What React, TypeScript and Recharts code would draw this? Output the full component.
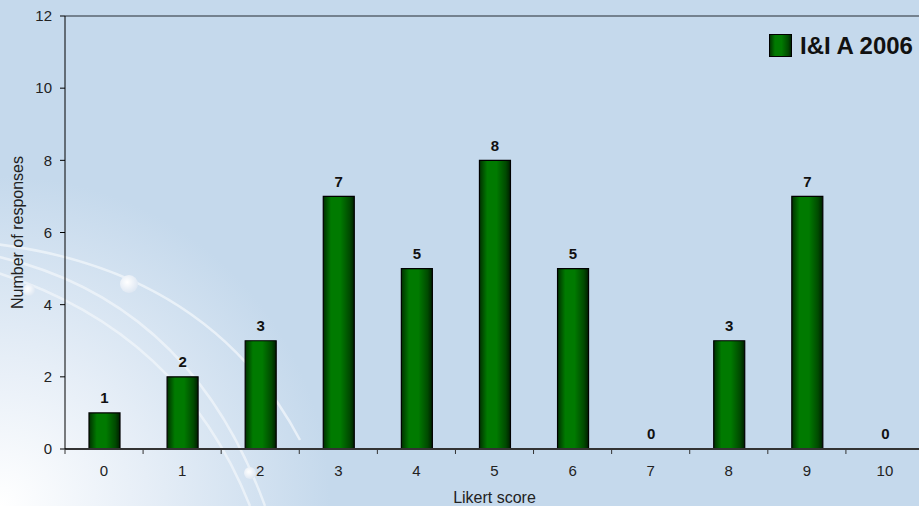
import React from "react";
import {
  Bar,
  BarChart,
  Cell,
  LabelList,
  Legend,
  ReferenceLine,
  XAxis,
  YAxis,
} from "recharts";

const scores = ["0", "1", "2", "3", "4", "5", "6", "7", "8", "9", "10"];
const responses = [1, 2, 3, 7, 5, 8, 5, 0, 3, 7, 0];
const yTicks = [0, 2, 4, 6, 8, 10, 12];
const seriesName = "I&I A 2006";

const data = scores.map((s, i) => ({ score: s, value: responses[i] }));

const CHART_W = 925;
const CHART_H = 506;
const Y_AXIS_W = 65;
const MARGIN_RIGHT = 1;
const BAND = (CHART_W - Y_AXIS_W - MARGIN_RIGHT) / scores.length;
const FONT = "'Liberation Sans', Arial, sans-serif";

function XTick(props: any) {
  const { x, y, payload, index } = props;
  const last = index === scores.length - 1;
  return (
    <g>
      <line x1={x - BAND / 2} x2={x - BAND / 2} y1={y} y2={y + 5} stroke="#333" />
      {last && <line x1={x + BAND / 2} x2={x + BAND / 2} y1={y} y2={y + 5} stroke="#333" />}
      <text
        x={x}
        y={y + 21}
        textAnchor="middle"
        dominantBaseline="central"
        fontSize={15}
        fill="#222"
        fontFamily={FONT}
      >
        {payload.value}
      </text>
    </g>
  );
}

function BarValue(props: any) {
  const { x, y, width, value } = props;
  return (
    <text
      x={x + width / 2}
      y={y - 15}
      textAnchor="middle"
      dominantBaseline="central"
      fontSize={15}
      fontWeight="bold"
      fill="#111"
      fontFamily={FONT}
    >
      {value}
    </text>
  );
}

function LegendBox() {
  return (
    <div style={{ display: "flex", alignItems: "center", fontFamily: FONT }}>
      <svg width={24} height={24} style={{ marginRight: 7 }}>
        <rect x={0.5} y={0.5} width={22} height={22} fill="url(#barFill)" stroke="#000" />
      </svg>
      <span style={{ fontWeight: "bold", fontSize: 24, color: "#111", lineHeight: "24px" }}>
        {seriesName}
      </span>
    </div>
  );
}

function Backdrop() {
  return (
    <svg width={919} height={506} style={{ position: "absolute", left: 0, top: 0 }}>
      <defs>
        <radialGradient id="glow" cx="0" cy="506" r="330" gradientUnits="userSpaceOnUse">
          <stop offset="0" stopColor="#ffffff" />
          <stop offset="0.45" stopColor="#e6eef7" />
          <stop offset="1" stopColor="#c5d9ec" />
        </radialGradient>
        <radialGradient id="dot" cx="0.4" cy="0.4" r="0.6">
          <stop offset="0" stopColor="#ffffff" />
          <stop offset="1" stopColor="#dfe8f3" />
        </radialGradient>
      </defs>
      <rect width={919} height={506} fill="#c5d9ec" />
      <rect width={919} height={506} fill="url(#glow)" />
      <g fill="none" stroke="#eef4fa" strokeWidth={2.5} opacity={0.85}>
        <path d="M -5 244 Q 210 270 300 440" />
        <path d="M -5 256 Q 190 300 265 506" />
        <path d="M -5 272 Q 180 330 250 506" />
      </g>
      <circle cx={129} cy={284} r={9} fill="url(#dot)" />
      <circle cx={29} cy={290} r={6} fill="url(#dot)" />
      <circle cx={250} cy={473} r={6} fill="url(#dot)" />
    </svg>
  );
}

export default function App() {
  return (
    <div
      style={{
        position: "fixed",
        left: 0,
        top: 0,
        width: 919,
        height: 506,
        overflow: "hidden",
        fontFamily: FONT,
      }}
    >
      <Backdrop />
      <div style={{ position: "absolute", left: 0, top: 0 }}>
        <BarChart
          width={CHART_W}
          height={CHART_H}
          data={data}
          margin={{ top: 16, right: MARGIN_RIGHT, bottom: 0, left: 0 }}
        >
          <defs>
            <linearGradient id="barFill" x1="0" y1="0" x2="1" y2="0">
              <stop offset="0" stopColor="#003000" />
              <stop offset="0.25" stopColor="#007a00" />
              <stop offset="0.55" stopColor="#007a00" />
              <stop offset="0.85" stopColor="#004a00" />
              <stop offset="1" stopColor="#001e00" />
            </linearGradient>
          </defs>
          <ReferenceLine y={12} stroke="#5a6470" strokeWidth={1.5} />
          <XAxis
            dataKey="score"
            height={57}
            axisLine={{ stroke: "#333", strokeWidth: 2 }}
            tickLine={false}
            tickSize={0}
            tickMargin={0}
            interval={0}
            tick={<XTick />}
            label={{
              value: "Likert score",
              position: "insideBottom",
              offset: 3,
              fontSize: 16,
              fill: "#222",
              fontFamily: FONT,
            }}
          />
          <YAxis
            width={Y_AXIS_W}
            domain={[0, 12]}
            ticks={yTicks}
            interval={0}
            axisLine={{ stroke: "#000" }}
            tickLine={{ stroke: "#000" }}
            tickSize={5}
            tickMargin={8}
            tick={{ fontSize: 15, fill: "#222", fontFamily: FONT }}
            label={{
              value: "Number of responses",
              angle: -90,
              position: "insideLeft",
              offset: 17,
              fontSize: 16,
              fill: "#222",
              fontFamily: FONT,
              style: { textAnchor: "middle" },
            }}
          />
          <Legend
            verticalAlign="middle"
            align="center"
            wrapperStyle={{ position: "absolute", left: 769, top: 34, width: "auto" }}
            content={() => <LegendBox />}
          />
          <Bar
            dataKey="value"
            name={seriesName}
            fill="url(#barFill)"
            stroke="#000"
            strokeWidth={1.2}
            barSize={31}
            minPointSize={(v: number) => (v === 0 ? 0.01 : 0)}
            isAnimationActive={false}
          >
            {responses.map((v, i) => (
              <Cell key={i} stroke={v === 0 ? "none" : "#000"} />
            ))}
            <LabelList dataKey="value" content={<BarValue />} />
          </Bar>
        </BarChart>
      </div>
    </div>
  );
}
